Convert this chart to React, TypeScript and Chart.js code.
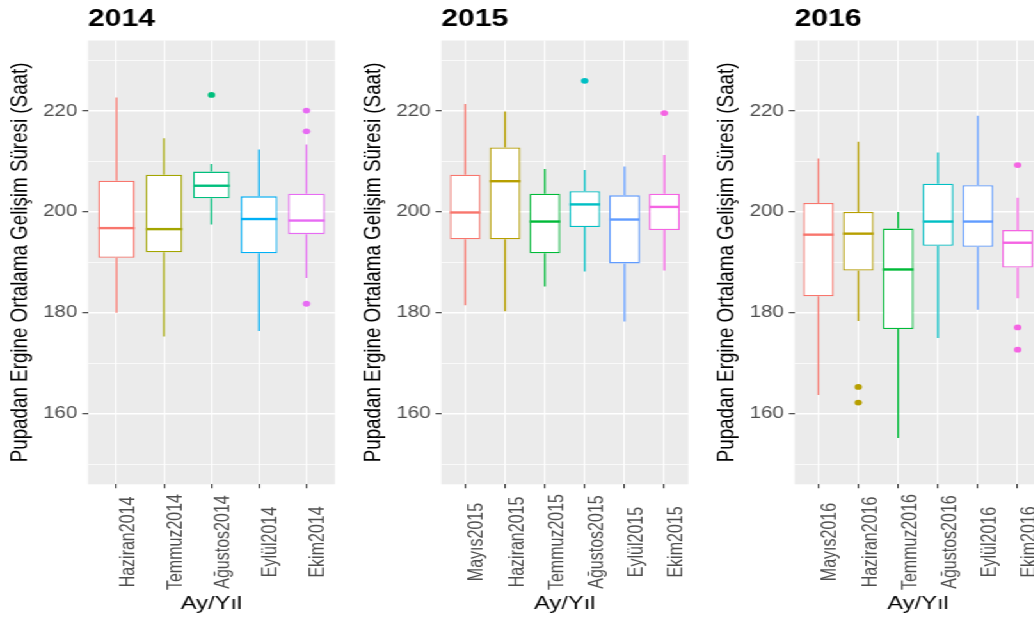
import React, { useEffect, useRef } from 'react';
import { Chart, registerables } from 'chart.js';

Chart.register(...registerables);

// ---------- data ----------
const TITLES = ['2014', '2015', '2016'];

const CATS_2014 = ['Haziran2014', 'Temmuz2014', 'Ağustos2014', 'Eylül2014', 'Ekim2014'];
const LOW_2014 = [180.0, 175.3, 197.5, 176.4, 186.9];
const Q1_2014 = [190.9, 192.0, 202.7, 191.8, 195.6];
const MED_2014 = [196.8, 196.6, 205.2, 198.6, 198.3];
const Q3_2014 = [206.2, 207.4, 208.0, 203.1, 203.6];
const HIGH_2014 = [222.7, 214.6, 209.5, 212.4, 213.4];
const OUT_2014 = [[], [], [223.2], [], [220.1, 216.0, 181.8]];

const CATS_2015 = ['Mayıs2015', 'Haziran2015', 'Temmuz2015', 'Ağustos2015', 'Eylül2015', 'Ekim2015'];
const LOW_2015 = [181.5, 180.3, 185.2, 188.2, 178.3, 188.4];
const Q1_2015 = [194.6, 194.6, 191.8, 197.0, 189.8, 196.4];
const MED_2015 = [199.9, 206.1, 198.1, 201.5, 198.5, 201.0];
const Q3_2015 = [207.4, 212.8, 203.6, 204.1, 203.3, 203.6];
const HIGH_2015 = [221.4, 219.9, 208.5, 208.3, 209.0, 211.3];
const OUT_2015 = [[], [], [], [226.0], [], [219.6]];

const CATS_2016 = ['Mayıs2016', 'Haziran2016', 'Temmuz2016', 'Ağustos2016', 'Eylül2016', 'Ekim2016'];
const LOW_2016 = [163.7, 178.4, 155.2, 175.0, 180.6, 182.9];
const Q1_2016 = [183.3, 188.4, 176.8, 193.3, 193.1, 189.0];
const MED_2016 = [195.5, 195.7, 188.6, 198.1, 198.1, 193.9];
const Q3_2016 = [201.8, 200.0, 196.7, 205.6, 205.3, 196.4];
const HIGH_2016 = [210.6, 213.9, 200.0, 211.8, 219.1, 202.8];
const OUT_2016 = [[], [165.3, 162.2], [], [], [], [209.3, 177.1, 172.7]];

const COLORS_5 = ['#F8766D', '#A3A500', '#00BF7D', '#00B0F6', '#E76BF3'];
const COLORS_6 = ['#F8766D', '#B79F00', '#00BA38', '#00BFC4', '#619CFF', '#F564E3'];

const Y_MIN = 146;
const Y_MAX = 234;
const Y_MAJOR = [160, 180, 200, 220];
const Y_MINOR = [150, 170, 190, 210, 230];

const Y_TITLE = 'Pupadan Ergine Ortalama Gelişim Süresi (Saat)';
const X_TITLE = 'Ay/Yıl';

// ---------- layout (unstretched px; the whole figure is stretched horizontally) ----------
const S = 1.28;
const PANEL_W = 353 / S;
const CANVAS_W = 276;
const CANVAS_H = 621;
const Y_AXIS_W = 88 / S;
const PAD_R = CANVAS_W - 335 / S;
const X_AXIS_H = 621 - 484.3;
const LABEL_DX = 14;
const LABEL_CY = 542;
const FONT = "'Liberation Sans', Arial, sans-serif";

const PANELS = [
  { title: TITLES[0], cats: CATS_2014, low: LOW_2014, q1: Q1_2014, med: MED_2014, q3: Q3_2014, high: HIGH_2014, out: OUT_2014, colors: COLORS_5 },
  { title: TITLES[1], cats: CATS_2015, low: LOW_2015, q1: Q1_2015, med: MED_2015, q3: Q3_2015, high: HIGH_2015, out: OUT_2015, colors: COLORS_6 },
  { title: TITLES[2], cats: CATS_2016, low: LOW_2016, q1: Q1_2016, med: MED_2016, q3: Q3_2016, high: HIGH_2016, out: OUT_2016, colors: COLORS_6 },
];

type Panel = typeof PANELS[number];

function makeConfig(p: Panel): any {
  const n = p.cats.length;
  const outPts: { x: number; y: number }[] = [];
  const outCols: string[] = [];
  p.out.forEach((arr: number[], i: number) => {
    arr.forEach((v) => {
      outPts.push({ x: i, y: v });
      outCols.push(p.colors[i]);
    });
  });
  const yTicks = [...Y_MINOR, ...Y_MAJOR].sort((a, b) => a - b);

  const boxPlugin = {
    id: 'boxParts',
    beforeDraw(chart: any) {
      const { ctx, chartArea } = chart;
      ctx.save();
      ctx.fillStyle = '#EBEBEB';
      ctx.fillRect(chartArea.left, chartArea.top, chartArea.right - chartArea.left, chartArea.bottom - chartArea.top);
      ctx.restore();
    },
    afterDatasetsDraw(chart: any) {
      const { ctx } = chart;
      const ys = chart.scales.y;
      const meta = chart.getDatasetMeta(0);
      ctx.save();
      meta.data.forEach((bar: any, i: number) => {
        const { x, width } = bar.getProps(['x', 'width'], true);
        const hw = width / 2;
        ctx.strokeStyle = p.colors[i];
        ctx.lineWidth = 1.3;
        ctx.beginPath();
        ctx.moveTo(x, ys.getPixelForValue(p.q3[i]));
        ctx.lineTo(x, ys.getPixelForValue(p.high[i]));
        ctx.moveTo(x, ys.getPixelForValue(p.q1[i]));
        ctx.lineTo(x, ys.getPixelForValue(p.low[i]));
        ctx.stroke();
        ctx.lineWidth = 2.4;
        const ym = ys.getPixelForValue(p.med[i]);
        ctx.beginPath();
        ctx.moveTo(x - hw, ym);
        ctx.lineTo(x + hw, ym);
        ctx.stroke();
      });
      ctx.restore();
    },
    afterDraw(chart: any) {
      const { ctx } = chart;
      const xs = chart.scales.x;
      ctx.save();
      ctx.font = `16px ${FONT}`;
      ctx.fillStyle = '#4D4D4D';
      ctx.textAlign = 'center';
      ctx.textBaseline = 'alphabetic';
      p.cats.forEach((c: string, i: number) => {
        const x = xs.getPixelForValue(i);
        ctx.save();
        ctx.translate(x + LABEL_DX, LABEL_CY);
        ctx.rotate(-Math.PI / 2);
        ctx.fillText(c, 0, 0);
        ctx.restore();
      });
      ctx.restore();
    },
  };

  return {
    type: 'bar',
    data: {
      datasets: [
        {
          type: 'bar',
          data: p.cats.map((_: string, i: number) => ({ x: i, y: [p.q1[i], p.q3[i]] })),
          backgroundColor: '#FFFFFF',
          borderColor: p.colors,
          borderWidth: 1.3,
          borderSkipped: false,
          barPercentage: 0.77,
          categoryPercentage: 1,
          order: 2,
        },
        {
          type: 'scatter',
          data: outPts,
          pointBackgroundColor: outCols,
          pointBorderWidth: 0,
          pointRadius: 2.9,
          order: 1,
        },
      ],
    },
    options: {
      responsive: false,
      animation: false,
      events: [],
      layout: { padding: { left: 0, right: PAD_R, top: 0, bottom: 0 } },
      plugins: {
        legend: { display: false },
        tooltip: { enabled: false },
        title: {
          display: true,
          text: p.title,
          align: 'start',
          fullSize: false,
          color: '#000000',
          font: { family: FONT, size: 23.5, weight: 'bold', lineHeight: 1.2 },
          padding: { top: 5.4, bottom: 6.9 },
        },
      },
      scales: {
        x: {
          type: 'linear',
          min: -0.6,
          max: n - 1 + 0.6,
          offset: false,
          afterBuildTicks: (s: any) => {
            s.ticks = p.cats.map((_: string, i: number) => ({ value: i }));
          },
          afterFit: (s: any) => {
            s.height = X_AXIS_H;
          },
          ticks: { display: false },
          grid: { color: '#FFFFFF', lineWidth: 1.1, tickColor: '#333333', tickLength: 4, tickWidth: 1.1, offset: false, drawTicks: true },
          border: { display: false },
          title: {
            display: true,
            text: X_TITLE,
            color: '#000000',
            font: { family: FONT, size: 18.5, lineHeight: 1.2 },
            padding: { top: 0, bottom: 6.2 },
          },
        },
        y: {
          min: Y_MIN,
          max: Y_MAX,
          afterBuildTicks: (s: any) => {
            s.ticks = yTicks.map((v) => ({ value: v }));
          },
          afterFit: (s: any) => {
            s.width = Y_AXIS_W;
          },
          ticks: {
            callback: (v: number) => (Y_MAJOR.includes(v) ? String(v) : ''),
            color: '#4D4D4D',
            font: { family: FONT, size: 16 },
            padding: 4,
          },
          grid: {
            color: '#FFFFFF',
            lineWidth: (c: any) => (c.tick && Y_MAJOR.includes(c.tick.value) ? 1.4 : 0.7),
            tickColor: (c: any) => (c.tick && Y_MAJOR.includes(c.tick.value) ? '#333333' : 'rgba(0,0,0,0)'),
            tickLength: 4.4,
            tickWidth: 1.1,
            drawTicks: true,
          },
          border: { display: false },
          title: {
            display: true,
            text: Y_TITLE,
            color: '#000000',
            font: { family: FONT, size: 18.8, lineHeight: 1.2 },
            padding: { top: 4.9, bottom: 0 },
          },
        },
      },
    },
    plugins: [boxPlugin],
  };
}

export default function App() {
  const r0 = useRef<HTMLCanvasElement>(null);
  const r1 = useRef<HTMLCanvasElement>(null);
  const r2 = useRef<HTMLCanvasElement>(null);

  useEffect(() => {
    const refs = [r0, r1, r2];
    const charts = refs.map((r, i) => new Chart(r.current as HTMLCanvasElement, makeConfig(PANELS[i])));
    return () => charts.forEach((c) => c.destroy());
  }, []);

  const refs = [r0, r1, r2];
  return (
    <div style={{ position: 'fixed', left: 0, top: 0, width: 1034, height: 621, overflow: 'hidden', background: '#FFFFFF' }}>
      <div
        style={{
          position: 'absolute',
          left: 0,
          top: 0,
          width: PANEL_W * 3,
          height: CANVAS_H,
          transform: `scaleX(${S})`,
          transformOrigin: '0 0',
        }}
      >
        {refs.map((r, i) => (
          <canvas
            key={i}
            ref={r}
            width={CANVAS_W}
            height={CANVAS_H}
            style={{ position: 'absolute', left: i * PANEL_W, top: 0 }}
          />
        ))}
      </div>
    </div>
  );
}
